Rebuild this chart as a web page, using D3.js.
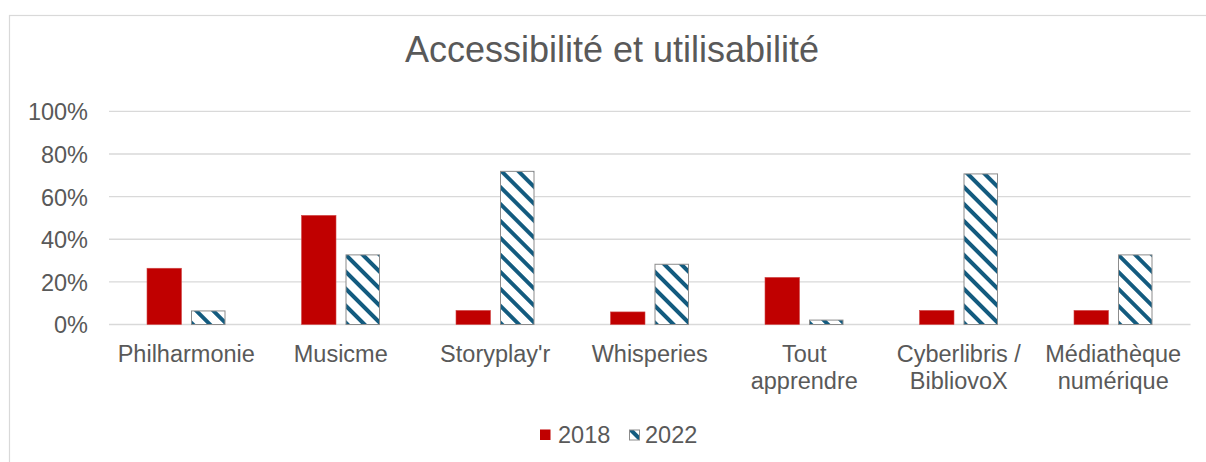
<!DOCTYPE html>
<html>
<head>
<meta charset="utf-8">
<script src="https://cdn.jsdelivr.net/npm/d3@7"></script>
<style>
  html, body { margin: 0; padding: 0; background: #fff; }
  svg { display: block; font-family: "Liberation Sans", Arial, sans-serif; }
</style>
</head>
<body>
<svg id="chart" width="1206" height="462"></svg>
<script>
const categories = [
  ["Philharmonie"],
  ["Musicme"],
  ["Storyplay'r"],
  ["Whisperies"],
  ["Tout", "apprendre"],
  ["Cyberlibris /", "BibliovoX"],
  ["Médiathèque", "numérique"]
];
const seriesNames = ["2018", "2022"];
const values2018 = [0.264, 0.512, 0.066, 0.059, 0.221, 0.066, 0.066];
const values2022 = [0.066, 0.329, 0.721, 0.285, 0.023, 0.709, 0.329];
const yTicks = [0, 0.2, 0.4, 0.6, 0.8, 1.0];
const titleText = "Accessibilité et utilisabilité";

const svg = d3.select("#chart");
const textColor = "#595959";
const gridColor = "#d9d9d9";
const red = "#C00000";
const teal = "#135b7f";

// pattern
const defs = svg.append("defs");
const pat = defs.append("pattern")
  .attr("id", "hatch")
  .attr("patternUnits", "userSpaceOnUse")
  .attr("width", 12).attr("height", 12)
  .attr("patternTransform", "rotate(45)");
pat.append("rect").attr("width", 12).attr("height", 12).attr("fill", "#fff");
pat.append("rect").attr("x", 0).attr("y", 0).attr("width", 12).attr("height", 4).attr("fill", teal);

// outer border
svg.append("rect")
  .attr("x", 9.5).attr("y", 15.5)
  .attr("width", 1300).attr("height", 600)
  .attr("fill", "none").attr("stroke", gridColor).attr("stroke-width", 1.2);

const plot = { left: 109, right: 1190.5, top: 111.4, bottom: 324.5 };

const x0 = d3.scaleBand()
  .domain(d3.range(categories.length))
  .range([plot.left, plot.right])
  .padding(0);
const groupW = 78.5;
const x1 = d3.scaleBand()
  .domain(seriesNames)
  .range([(x0.bandwidth() - groupW) / 2, (x0.bandwidth() + groupW) / 2])
  .paddingInner(0.216)
  .paddingOuter(0);
const y = d3.scaleLinear().domain([0, 1]).range([plot.bottom, plot.top]);

// gridlines
svg.append("g")
  .selectAll("line")
  .data(yTicks)
  .join("line")
  .attr("x1", plot.left).attr("x2", plot.right)
  .attr("y1", d => y(d)).attr("y2", d => y(d))
  .attr("stroke", gridColor).attr("stroke-width", 1.3);

// y axis labels
const yAxis = d3.axisLeft(y).tickValues(yTicks).tickFormat(d3.format(".0%")).tickSize(0).tickPadding(0);
const yg = svg.append("g").attr("transform", `translate(88,0)`).call(yAxis);
yg.select(".domain").remove();
yg.selectAll("text")
  .attr("fill", textColor)
  .attr("font-size", "23.5px")
  .attr("font-family", '"Liberation Sans", Arial, sans-serif')
  .attr("dy", "0.36em");

// bars
const groups = svg.append("g")
  .selectAll("g")
  .data(categories.map((c, i) => i))
  .join("g")
  .attr("transform", i => `translate(${x0(i)},0)`);

groups.append("rect")
  .attr("x", x1("2018"))
  .attr("width", x1.bandwidth())
  .attr("y", i => y(values2018[i]))
  .attr("height", i => y(0) - y(values2018[i]))
  .attr("fill", red)
  .attr("stroke", "#d04848").attr("stroke-width", 0.6);

groups.append("rect")
  .attr("x", x1("2022") + 0.5)
  .attr("width", x1.bandwidth() - 1)
  .attr("y", i => y(values2022[i]) + 0.5)
  .attr("height", i => y(0) - y(values2022[i]) - 0.5)
  .attr("fill", "url(#hatch)")
  .attr("stroke", "#8c8c8c").attr("stroke-width", 1);

// category labels
const catLabels = svg.append("g")
  .selectAll("text")
  .data(categories)
  .join("text")
  .attr("x", (d, i) => x0(i) + x0.bandwidth() / 2)
  .attr("y", 362)
  .attr("text-anchor", "middle")
  .attr("fill", textColor)
  .attr("font-size", "23.5px");
catLabels.selectAll("tspan")
  .data(d => d)
  .join("tspan")
  .attr("x", function() { return d3.select(this.parentNode).attr("x"); })
  .attr("dy", (d, j) => j === 0 ? 0 : 26.7)
  .text(d => d);

// title
svg.append("text")
  .attr("x", 612).attr("y", 62)
  .attr("text-anchor", "middle")
  .attr("fill", textColor)
  .attr("font-size", "36px")
  .text(titleText);

// legend
const legend = svg.append("g");
const legendItems = [
  { name: seriesNames[0], fill: red, stroke: "none", x: 540, tx: 558 },
  { name: seriesNames[1], fill: "url(#hatch)", stroke: "#8c8c8c", x: 629.5, tx: 645 }
];
legend.selectAll("rect")
  .data(legendItems)
  .join("rect")
  .attr("x", d => d.x).attr("y", d => d.stroke === "none" ? 429.5 : 430)
  .attr("width", d => d.stroke === "none" ? 10.5 : 10).attr("height", d => d.stroke === "none" ? 10.5 : 10)
  .attr("fill", d => d.fill)
  .attr("stroke", d => d.stroke).attr("stroke-width", 1);
legend.selectAll("text")
  .data(legendItems)
  .join("text")
  .attr("x", d => d.tx).attr("y", 442.5)
  .attr("fill", textColor)
  .attr("font-size", "23.5px")
  .text(d => d.name);
</script>
</body>
</html>
